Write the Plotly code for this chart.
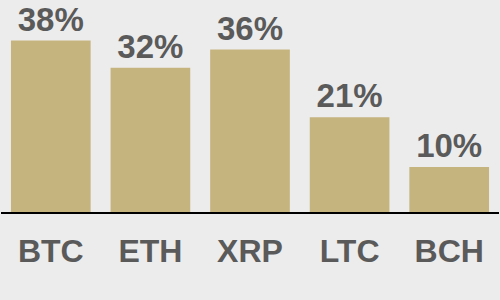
import plotly.graph_objects as go

categories = ["BTC", "ETH", "XRP", "LTC", "BCH"]
values = [38, 32, 36, 21, 10]
labels = [f"{v}%" for v in values]

fig = go.Figure(go.Bar(
    x=categories, y=values,
    text=labels, textposition="outside",
    textfont=dict(family="Liberation Sans, Arial", size=33, color="#5a5a5a", weight="bold"),
    marker=dict(color="#c6b47f", line=dict(width=0)),
    width=0.8, cliponaxis=False,
))
fig.update_layout(
    width=500, height=300,
    margin=dict(l=1, r=1, t=0, b=88),
    paper_bgcolor="#ececec", plot_bgcolor="#ececec",
    showlegend=False,
    xaxis=dict(showline=True, linecolor="black", linewidth=1.5, ticks="", showgrid=False,
               tickfont=dict(family="Liberation Sans, Arial", size=32, color="#5a5a5a", weight="bold"),
               ticklabelstandoff=10),
    yaxis=dict(range=[0, 47], visible=False, showgrid=False),
)
fig.write_html("out.html")
